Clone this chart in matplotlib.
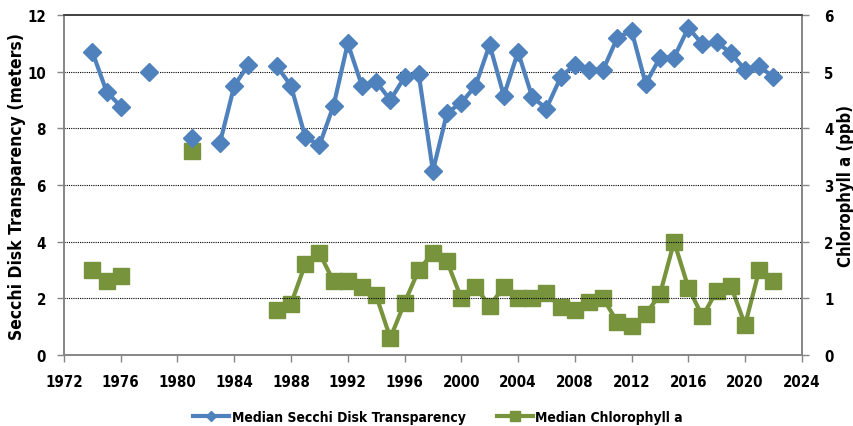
import numpy as np
import matplotlib
matplotlib.use("Agg")
import matplotlib.pyplot as plt
from matplotlib import font_manager

years = list(range(1974, 2023))
secchi = {1974: 10.7, 1975: 9.3, 1976: 8.77, 1978: 10.0, 1981: 7.65, 1983: 7.5, 1984: 9.5,
          1985: 10.25, 1987: 10.2, 1988: 9.5, 1989: 7.7, 1990: 7.4, 1991: 8.8, 1992: 11.0,
          1993: 9.5, 1994: 9.65, 1995: 9.0, 1996: 9.8, 1997: 9.92, 1998: 6.5, 1999: 8.55,
          2000: 8.9, 2001: 9.5, 2002: 10.95, 2003: 9.15, 2004: 10.7, 2005: 9.1, 2006: 8.7,
          2007: 9.8, 2008: 10.25, 2009: 10.07, 2010: 10.07, 2011: 11.2, 2012: 11.45,
          2013: 9.57, 2014: 10.5, 2015: 10.5, 2016: 11.55, 2017: 10.97, 2018: 11.05,
          2019: 10.65, 2020: 10.07, 2021: 10.2, 2022: 9.8}
chl = {1974: 1.5, 1975: 1.3, 1976: 1.4, 1981: 3.6, 1987: 0.8, 1988: 0.9, 1989: 1.6, 1990: 1.8,
       1991: 1.3, 1992: 1.3, 1993: 1.2, 1994: 1.05, 1995: 0.3, 1996: 0.92, 1997: 1.5,
       1998: 1.8, 1999: 1.65, 2000: 1.0, 2001: 1.2, 2002: 0.87, 2003: 1.2, 2004: 1.0,
       2005: 1.0, 2006: 1.1, 2007: 0.84, 2008: 0.8, 2009: 0.93, 2010: 1.0, 2011: 0.58,
       2012: 0.51, 2013: 0.72, 2014: 1.07, 2015: 2.0, 2016: 1.19, 2017: 0.68, 2018: 1.13,
       2019: 1.22, 2020: 0.53, 2021: 1.5, 2022: 1.3}
secchi_vals = [secchi.get(y, np.nan) for y in years]
chl_vals = [chl.get(y, np.nan) for y in years]
x_ticks = list(range(1972, 2025, 4))

# pick a condensed/narrow bold font if available
cands = []
for f in font_manager.fontManager.ttflist:
    fn = f.fname.lower()
    if ("narrow" in fn or "condensed" in fn) and "bold" in fn and "oblique" not in fn and "italic" not in fn:
        cands.append(f)
if cands:
    cands.sort(key=lambda f: (0 if "liberation" in f.fname.lower() else 1, len(f.fname)))
    fp_path = cands[0].fname
    def FP(size):
        return font_manager.FontProperties(fname=fp_path, size=size)
else:
    def FP(size):
        return font_manager.FontProperties(family="Liberation Sans", weight="bold", size=size * 0.92)

blue = "#4F81BD"
green = "#77933C"

fig = plt.figure(figsize=(8.54, 4.27), dpi=100)
ax = fig.add_axes([0.0749, 0.1663, 0.864, 0.7962])
ax2 = ax.twinx()

ax.plot(years, secchi_vals, color=blue, lw=3, marker="D", ms=9, mec=blue, mfc=blue,
        label="Median Secchi Disk Transparency", zorder=3)
ax2.plot(years, chl_vals, color=green, lw=3, marker="s", ms=11.5, mec=green, mfc=green,
         label="Median Chlorophyll a", zorder=3)

ax.set_xlim(1972, 2024)
ax.set_ylim(0, 12)
ax2.set_ylim(0, 6)
ax.set_xticks(x_ticks)
ax.set_yticks(range(0, 13, 2))
ax2.set_yticks(range(0, 7, 1))
for y in range(2, 12, 2):
    ax.axhline(y, color="black", lw=0.8, ls=(0, (1, 1)), zorder=1)

ax.set_ylabel("Secchi Disk Transparency (meters)", fontproperties=FP(12.5))
ax2.set_ylabel("Chlorophyll a (ppb)", fontproperties=FP(12))
ax.yaxis.set_label_coords(-0.051, 0.5)
ax2.yaxis.set_label_coords(1.048, 0.5)

ax.tick_params(axis="x", length=5, width=1, color="#868686", pad=9)
ax.tick_params(axis="y", length=5, width=1, color="#868686", pad=8)
ax2.tick_params(axis="y", length=5, width=1, color="#868686", pad=11)
for a in (ax, ax2):
    for lab in a.get_xticklabels() + a.get_yticklabels():
        lab.set_fontproperties(FP(10.8))
    for s in a.spines.values():
        s.set_color("#868686")
        s.set_linewidth(1.2)
    a.spines["top"].set_color("#404040")

ax.set_zorder(ax2.get_zorder() + 1)
ax.patch.set_visible(False)

h1, l1 = ax.get_legend_handles_labels()
h2, l2 = ax2.get_legend_handles_labels()
leg = fig.legend(h1 + h2, l1 + l2, loc="center", bbox_to_anchor=(0.513, 0.021), ncol=2,
                 frameon=False, prop=FP(10), handlelength=2.6, columnspacing=2.2,
                 handletextpad=0.2, markerscale=0.6)

fig.savefig("out.png", dpi=100)
